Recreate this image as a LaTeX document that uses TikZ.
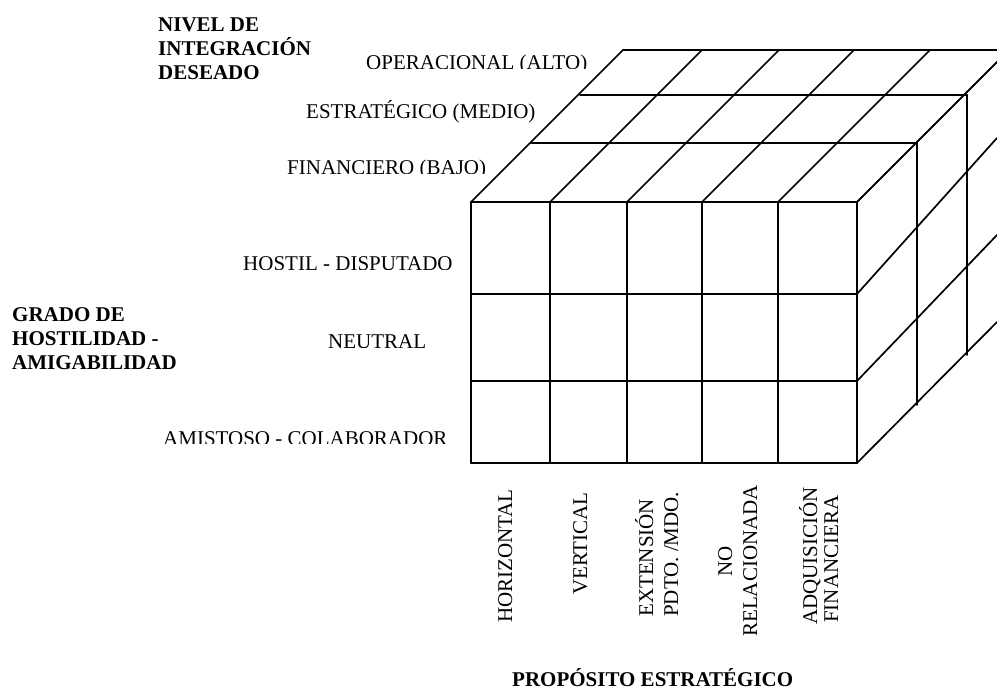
\documentclass[tikz,border=0pt]{standalone}
\usepackage{fontspec}
\setmainfont{Liberation Serif}
\begin{document}
\begin{tikzpicture}[x=1pt,y=-1pt,
  edge/.style={line width=1.7pt, line cap=round, line join=miter},
  lab/.style={font=\fontsize{21}{24}\selectfont, inner sep=0pt, anchor=base west},
  blab/.style={font=\fontsize{21}{24}\selectfont\bfseries, inner sep=0pt, anchor=base west},
  vlab/.style={lab, rotate=90}]
\useasboundingbox (0,0) rectangle (997,690);
\begin{scope}
\clip (0,0) rectangle (997,690);
% corners
\coordinate (FTL) at (471,202);
\coordinate (FTR) at (857,202);
\coordinate (FBL) at (471,463);
\coordinate (FBR) at (857,463);
% front face
\foreach \x in {471,550,627,702,778,857}
  \draw[edge] (\x,202) -- (\x,463);
\foreach \y in {202,294,381,463}
  \draw[edge] (471,\y) -- (857,\y);
% top face
\foreach \x in {471,550,627,702,778,857}
  \draw[edge] (\x,202) -- ++(152,-152);
\draw[edge] (531,143) -- (917,143);
\draw[edge] (580,95) -- (967,95);
\draw[edge] (623,50) -- (1010,50);
% right face
\draw[edge] (FTR) -- (997,62);
\draw[edge] (857,294) -- (997,138);
\draw[edge] (857,381) -- (997,235);
\draw[edge] (FBR) -- (997,322);
\draw[edge] (917,143) -- (917,405);
\draw[edge] (967,95) -- (967,355);
\end{scope}
% axis titles
\node[blab] (n1) at (158,31.5) {NIVEL DE};
\node[blab] (n2) at (158,55.5) {INTEGRACIÓN};
\node[blab] (n3) at (158,79.5) {DESEADO};
\node[blab] (g1) at (12,321) {GRADO DE};
\node[blab] (g2) at (12,345) {HOSTILIDAD -};
\node[blab] (g3) at (12,369) {AMIGABILIDAD};
\node[blab] (pe) at (512,686) {PROPÓSITO ESTRATÉGICO};
% depth labels
\begin{scope}
\clip (300,30) rectangle (620,68.3);
\node[lab] (op) at (366,70) {OPERACIONAL (ALTO)};
\end{scope}
\node[lab] (es) at (306,118.5) {ESTRATÉGICO (MEDIO)};
\begin{scope}
\clip (250,140) rectangle (520,173.3);
\node[lab] (fi) at (287,175) {FINANCIERO (BAJO)};
\end{scope}
% row labels
\begin{scope}
\clip (200,240) rectangle (470,269.3);
\node[lab] (ho) at (243,270.5) {HOSTIL - DISPUTADO};
\end{scope}
\begin{scope}
\clip (300,320) rectangle (460,347.3);
\node[lab] (ne) at (328,348) {NEUTRAL};
\end{scope}
\begin{scope}
\clip (140,415) rectangle (470,443.3);
\node[lab] (am) at (163,445) {AMISTOSO - COLABORADOR};
\end{scope}
% column labels
\node[vlab] (c1) at (512,623) {HORIZONTAL};
\node[vlab] (c2) at (587,595) {VERTICAL};
\node[vlab] (c3a) at (653,617) {EXTENSIÓN};
\node[vlab] (c3b) at (678,617) {PDTO. /MDO.};
\node[vlab] (c4a) at (732,577) {NO};
\node[vlab] (c4b) at (757,637) {RELACIONADA};
\node[vlab] (c5a) at (817,625) {ADQUISICIÓN};
\node[vlab] (c5b) at (838,623) {FINANCIERA};
\end{tikzpicture}
\end{document}
